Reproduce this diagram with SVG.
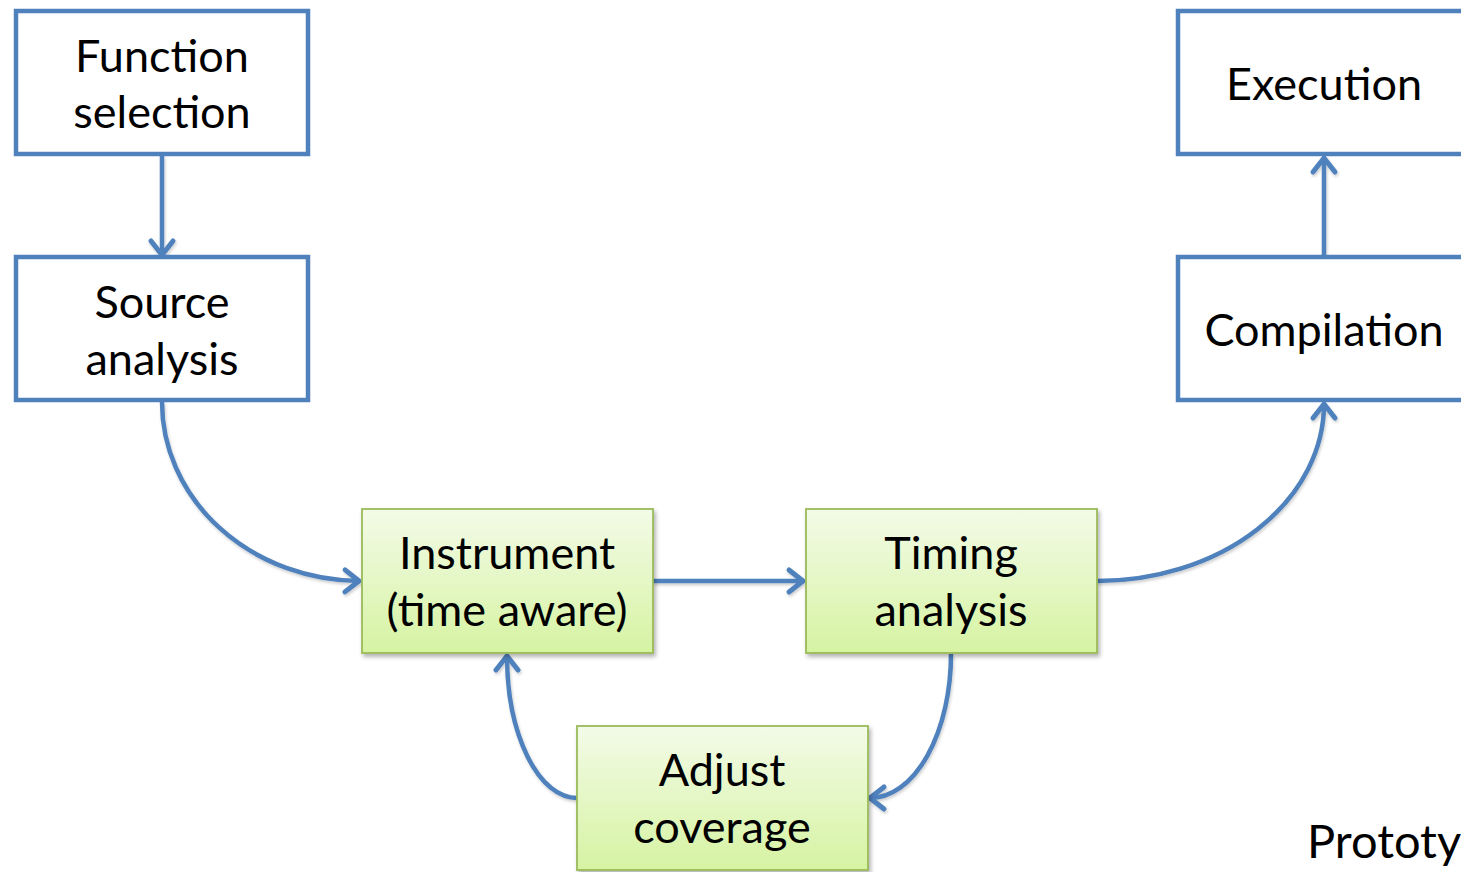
<svg xmlns="http://www.w3.org/2000/svg" width="1461" height="872" viewBox="0 0 1461 872">
  <defs>
    <linearGradient id="greenFill" x1="0" y1="0" x2="0" y2="1">
      <stop offset="0" stop-color="#f3fbe8"/>
      <stop offset="1" stop-color="#d6f3a2"/>
    </linearGradient>
    <filter id="shadow" x="-10%" y="-10%" width="125%" height="130%">
      <feDropShadow dx="2" dy="3" stdDeviation="2" flood-color="#000" flood-opacity="0.3"/>
    </filter>
    <filter id="lineShadow" x="-20%" y="-20%" width="140%" height="140%">
      <feDropShadow dx="1" dy="2" stdDeviation="1.5" flood-color="#000" flood-opacity="0.2"/>
    </filter>
    <marker id="arrow" markerUnits="userSpaceOnUse" viewBox="-20 -15 27 30" markerWidth="27" markerHeight="30" refX="0" refY="0" orient="auto">
      <path d="M -14,-11 L 0,0 L -14,11" fill="none" stroke="#4f81bd" stroke-width="5" stroke-linecap="round" stroke-linejoin="round"/>
    </marker>
  </defs>
  <style>
    .plain { fill: #ffffff; stroke: #4f81bd; stroke-width: 4.5; }
    .green { fill: url(#greenFill); stroke: #9bbb59; stroke-width: 1.8; filter: url(#shadow); }
    .label { font-family: Lato, "Open Sans", sans-serif; font-size: 45px; fill: #000; text-anchor: middle; }
    .edge { fill: none; stroke: #4f81bd; stroke-width: 4.5; marker-end: url(#arrow); }
  </style>

  <rect x="0" y="0" width="1461" height="872" fill="#ffffff"/>

  <!-- connectors -->
  <g id="connectors" filter="url(#lineShadow)">
    <path class="edge" d="M162,156 L162,255"/>
    <path class="edge" d="M162,402 A199,179 0 0 0 359,581"/>
    <path class="edge" d="M653,581 L803,581"/>
    <path class="edge" d="M1097,581 A227,177 0 0 0 1324,404"/>
    <path class="edge" d="M1324,257 L1324,158"/>
    <path class="edge" d="M951,654 A81,144 0 0 1 870,798"/>
    <path class="edge" d="M577,798 A70,142 0 0 1 507,656"/>
  </g>

  <g id="function-selection">
    <rect class="plain" x="16" y="11" width="292" height="143"/>
    <text class="label" x="162" y="72">Function</text>
    <text class="label" x="162" y="128">selection</text>
  </g>

  <g id="source-analysis">
    <rect class="plain" x="16" y="257" width="292" height="143"/>
    <text class="label" x="162" y="318">Source</text>
    <text class="label" x="162" y="375">analysis</text>
  </g>

  <g id="execution">
    <rect class="plain" x="1178" y="11" width="300" height="143"/>
    <text class="label" x="1324" y="100">Execution</text>
  </g>

  <g id="compilation">
    <rect class="plain" x="1178" y="257" width="300" height="143"/>
    <text class="label" x="1324" y="346">Compilation</text>
  </g>

  <g id="instrument">
    <rect class="green" x="362" y="509" width="291" height="144"/>
    <text class="label" x="507" y="569">Instrument</text>
    <text class="label" x="507" y="626">(time aware)</text>
  </g>

  <g id="timing-analysis">
    <rect class="green" x="806" y="509" width="291" height="144"/>
    <text class="label" x="951" y="569">Timing</text>
    <text class="label" x="951" y="626">analysis</text>
  </g>

  <g id="adjust-coverage">
    <rect class="green" x="577" y="726" width="291" height="144"/>
    <text class="label" x="722" y="786">Adjust</text>
    <text class="label" x="722" y="843">coverage</text>
  </g>

  <text x="1307" y="858" font-family="Lato, 'Open Sans', sans-serif" font-size="47px" fill="#000">Prototy</text>
</svg>
